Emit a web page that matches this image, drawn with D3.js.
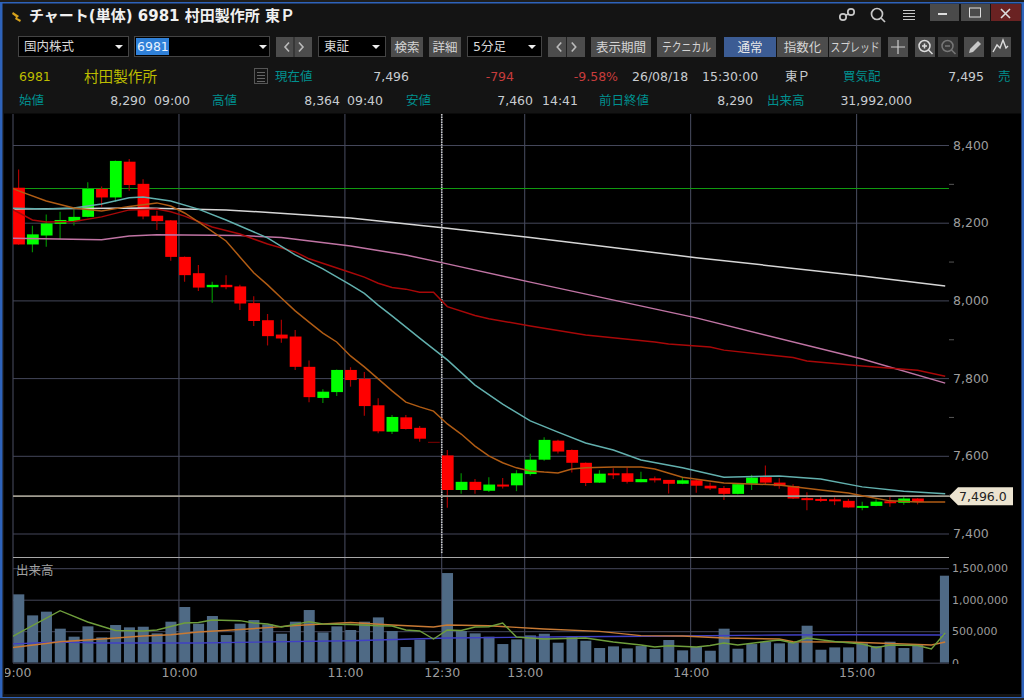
<!DOCTYPE html>
<html>
<head>
<meta charset="utf-8">
<script src="https://cdnjs.cloudflare.com/ajax/libs/d3/7.8.5/d3.min.js"></script>
<style>
  html, body { margin: 0; padding: 0; background: #000; overflow: hidden; }
  svg { display: block; }
  text { font-family: "DejaVu Sans", "Noto Sans CJK JP", sans-serif; }
</style>
</head>
<body>
<svg id="chart" width="1024" height="700"></svg>
<script>
// 5 minute bars, 09:00 - 15:30. The last two bars have no candle
const opens = [8290,8144,8167,8197,8204,8215,8287,8265,8357,8300,8218,8206,8112,8070,8034,8040,8036,7993,7949,7912,7907,7829,7749,7764,7821,7798,7730,7662,7699,7672,7636,7601,7512,7533,7510,7526,7524,7553,7590,7639,7615,7582,7531,7555,7555,7532,7542,7538,7528,7537,7523,7517,7502,7528,7545,7531,7522,7491,7489,7488,7484,7467,7471,7483,7479,7490,null,null];
const highs = [8337,8192,8221,8228,8234,8304,8293,8360,8364,8312,8231,8207,8113,8091,8048,8065,8040,8011,7965,7950,7924,7845,7771,7822,7828,7816,7748,7705,7705,7677,7636,7615,7555,7540,7545,7543,7563,7605,7648,7641,7616,7583,7563,7568,7570,7559,7547,7538,7546,7538,7531,7522,7528,7551,7575,7542,7527,7506,7495,7493,7489,7482,7488,7497,7496,7491,null,null];
const lows = [8143,8124,8138,8158,8193,8214,8241,8254,8282,8209,8181,8102,8048,8024,7994,8029,7975,7934,7884,7891,7821,7738,7736,7754,7778,7703,7658,7656,7668,7636,7636,7466,7502,7502,7507,7516,7509,7549,7587,7606,7557,7522,7530,7540,7529,7532,7531,7503,7527,7505,7512,7486,7501,7512,7525,7515,7489,7460,7481,7473,7466,7460,7470,7469,7474,7475,null,null];
const closes = [8144,8170,8198,8207,8215,8287,8265,8359,8297,8216,8204,8112,8065,8033,8040,8034,7992,7947,7908,7902,7829,7751,7765,7821,7795,7728,7663,7700,7669,7644,7636,7512,7533,7512,7526,7522,7555,7590,7641,7611,7582,7530,7554,7553,7533,7540,7538,7528,7537,7523,7516,7502,7527,7544,7531,7522,7490,7489,7488,7483,7467,7471,7482,7480,7490,7481,null,null];
const volumes = [1085000,751000,810000,540000,413000,577000,402000,598000,561000,571000,466000,651000,884000,619000,741000,439000,619000,677000,608000,460000,651000,836000,481000,577000,519000,651000,719000,503000,249000,365000,26000,1423000,503000,466000,413000,296000,370000,434000,460000,317000,407000,349000,233000,259000,227000,264000,217000,360000,196000,249000,190000,540000,222000,296000,333000,307000,323000,587000,206000,243000,243000,307000,264000,333000,233000,291000,0,1381000];

const maOrange = [[-1,8297],[0,8282],[2,8256],[4,8238],[6,8230],[8,8242],[10,8251],[11,8243],[12,8225],[13,8202],[15,8153],[16,8112],[17,8071],[18,8040],[19,8006],[20,7973],[21,7944],[22,7916],[23,7893],[24,7857],[25,7829],[26,7798],[27,7767],[28,7738],[29,7726],[30,7715],[31,7682],[32,7656],[33,7625],[34,7600],[35,7582],[36,7569],[37,7561],[38,7558],[39,7556],[40,7566],[41,7569],[43,7571],[45,7571],[46,7566],[48,7545],[51,7530],[55,7525],[58,7512],[60,7504],[61,7497],[63,7484],[65,7481],[67,7481]];
const maTeal = [[-1,8238],[2,8235],[4,8238],[6,8248],[8,8264],[9,8266],[11,8256],[13,8235],[15,8207],[18,8161],[20,8117],[22,8081],[24,8040],[25,8018],[26,7988],[27,7960],[29,7903],[31,7847],[33,7782],[35,7733],[37,7690],[39,7661],[41,7633],[43,7615],[45,7589],[48,7569],[51,7545],[55,7548],[58,7540],[61,7520],[64,7509],[67,7502]];
const maWhite = [[-1,8235],[9,8238],[15,8233],[20,8222],[24,8212],[31,8186],[37,8162],[49,8110],[61,8063],[67,8037]];
const maPink = [[-1,8160],[6,8156],[8,8166],[10,8169],[16,8167],[19,8162],[24,8140],[28,8117],[31,8094],[37,8047],[49,7955],[61,7849],[67,7787]];
const maRed = [[-1,8245],[1,8207],[2,8202],[4,8203],[6,8215],[8,8233],[10,8235],[11,8228],[12,8217],[14,8189],[16,8171],[18,8145],[20,8125],[21,8107],[24,8072],[25,8060],[26,8044],[27,8033],[28,8029],[29,8021],[30,8021],[31,7984],[33,7961],[34,7953],[37,7934],[41,7911],[46,7893],[47,7888],[50,7880],[51,7872],[56,7853],[57,7844],[61,7831],[65,7820],[67,7805]];

const volShort = [[-1,344000],[0,471000],[3,825000],[5,646000],[7,511000],[9,503000],[10,519000],[12,630000],[13,638000],[14,678000],[16,667000],[17,630000],[18,614000],[19,567000],[21,651000],[22,614000],[24,606000],[26,587000],[27,583000],[28,519000],[29,503000],[30,376000],[31,519000],[32,511000],[33,567000],[34,571000],[35,630000],[36,408000],[38,376000],[41,392000],[43,329000],[45,281000],[46,249000],[47,270000],[49,249000],[50,273000],[51,313000],[52,281000],[54,336000],[55,360000],[56,313000],[57,392000],[59,336000],[61,297000],[62,238000],[63,281000],[65,273000],[66,217000],[67,471000]];
const volMid = [[-1,225000],[3,333000],[6,376000],[9,424000],[11,444000],[13,487000],[16,527000],[18,556000],[20,590000],[24,638000],[27,598000],[30,567000],[31,598000],[34,587000],[38,535000],[42,498000],[45,429000],[48,424000],[51,392000],[55,376000],[56,333000],[60,329000],[66,281000],[67,329000]];
const volLong = [[-1,294000],[3,329000],[6,313000],[13,313000],[24,349000],[26,360000],[31,392000],[40,413000],[48,424000],[55,440000],[60,444000],[67,440000]];

const priceTicks = [7400,7600,7800,8000,8200,8400];
const priceMinorTicks = [7500,7700,7900,8100,8300];
const volumeTicks = [0,500000,1000000,1500000];
const timeBars = [0,12,24,31,37,49,61];
const timeLabels = ["09:00","10:00","11:00","12:30","13:00","14:00","15:00"];

const prevClose = 8290;
const lastPrice = 7496;

const svg = d3.select("#chart");
const plot = { left: 13, right: 949, top: 114, priceBottom: 553, volTop: 558, volBottom: 662.7 };
const barCount = opens.length;

const x = d3.scaleLinear().domain([0, barCount]).range([13, 13 + 13.83 * barCount]);
const mid = i => x(i) + 5.6;
const yPrice = d3.scaleLinear().domain([7400, 8400]).range([533.5, 145]);
const yVol = d3.scaleLinear().domain([0, 1500000]).range([662.7, 568.2]);

// ---------- window chrome ----------
const panel = "#141414", teal = "#00908f", yellow = "#bdbd00", pale = "#c8ccd0", btn = "#4c4c4c";

function rect(px, py, w, h, fill, stroke) {
  return svg.append("rect").attr("x", px).attr("y", py).attr("width", w).attr("height", h)
    .attr("fill", fill).attr("stroke", stroke || "none");
}
function label(str, px, py, fill, size, anchor, weight) {
  return svg.append("text").attr("x", px).attr("y", py).attr("fill", fill)
    .attr("font-size", size || 12.5).attr("text-anchor", anchor || "start")
    .attr("font-weight", weight || "normal").text(str);
}
function button(str, px, w, fill, color, fit) {
  rect(px, 37, w, 20, fill || btn);
  const t = label(str, px + w / 2, 52, color || "#d4d4d4", 12.5, "middle");
  // the katakana labels are squeezed to fit their buttons
  if (fit) t.attr("textLength", fit).attr("lengthAdjust", "spacingAndGlyphs");
}
function select(str, px, w) {
  rect(px + 0.5, 36.5, w, 20, "#000", "#444");
  label(str, px + 6, 51, "#d8d8d8", 12.5);
  svg.append("path").attr("d", d3.line()([[px + w - 13, 45], [px + w - 5, 45], [px + w - 9, 49]])).attr("fill", "#eee");
}
function arrows(px, w) {
  rect(px, 37, w, 20, btn);
  rect(px + w / 2 - 0.5, 37, 1, 20, "#222");
  const q = w / 4;
  [[px + q + 2, -1], [px + 3 * q - 2, 1]].forEach(([cx, d]) => {
    svg.append("path").attr("fill", "none").attr("stroke", "#bbb").attr("stroke-width", 1.6)
      .attr("d", d3.line()([[cx - 2 * d, 42.5], [cx + 2 * d, 47], [cx - 2 * d, 51.5]]));
  });
}

rect(0, 0, 1024, 700, "#1e1e1e");
rect(0, 2, 1024, 698, "#2e63bb");
rect(2.5, 3.5, 1019, 693.5, panel);
rect(0, 698, 1024, 2, "#2a2a2a");

// title bar
svg.append("path").attr("d", "M13 12l6 4-2 2 4 2-1 2-5-3 1-2-4-3z").attr("fill", "#d8a31c");
label("チャート(単体) 6981 村田製作所 東Ｐ", 29, 21, "#f0f0f0", 15, "start", "bold");

// link, search, menu
svg.append("g").attr("fill", "none").attr("stroke", "#c8c8c8").attr("stroke-width", 1.7).call(g => {
  g.append("circle").attr("cx", 843).attr("cy", 17).attr("r", 3.2);
  g.append("circle").attr("cx", 851).attr("cy", 12).attr("r", 3.2);
  g.append("path").attr("d", "M846 15l3-1");
  g.append("circle").attr("cx", 877).attr("cy", 14).attr("r", 5.5);
  g.append("path").attr("d", "M881 18l4 4");
});
[10, 13, 16, 19].forEach(d => rect(903, d, 12, 1, "#c8c8c8"));
rect(930, 4, 29, 17, "#4a4a4a");
rect(961, 4, 29, 17, "#4a4a4a");
rect(991, 4, 30, 17, "#6a2222");
rect(938, 13, 9, 2, "#ddd");
rect(969.5, 8, 11, 9, "none", "#ddd");
svg.append("path").attr("d", "M1001 9l9 9M1010 9l-9 9").attr("stroke", "#ddd").attr("stroke-width", 1.6);

// toolbar
select("国内株式", 18, 110);
rect(134.5, 36.5, 135, 20, "#000", "#444");
rect(136, 38, 33, 17, "#2f80d8");
label("6981", 137, 51, "#e8f2ff", 12.5);
svg.append("path").attr("d", "M259 45h8l-4 4z").attr("fill", "#eee");
arrows(276, 36);
select("東証", 318, 67);
button("検索", 391, 32);
button("詳細", 429, 32);
select("5分足", 467, 74);
arrows(548, 37);
button("表示期間", 591, 60);
button("テクニカル", 657, 59, null, null, 49);
button("通常", 724, 52, "#3c5c94", "#e8e8e8");
button("指数化", 777, 51);
button("スプレッド", 829, 52, null, null, 49);
rect(888, 37, 20, 20, btn);
svg.append("path").attr("d", "M898 40v14M891 47h14").attr("stroke", "#ccc").attr("stroke-width", 1.2);
rect(915, 37, 20, 20, btn);
rect(938, 37, 20, 20, "#383838");
svg.append("g").attr("fill", "none").attr("stroke-width", 1.5).call(g => {
  g.append("circle").attr("cx", 924.5).attr("cy", 46).attr("r", 5.5).attr("stroke", "#ddd");
  g.append("path").attr("d", "M928.5 50l4 4M922 46h5M924.5 43.5v5").attr("stroke", "#ddd");
  g.append("circle").attr("cx", 947.5).attr("cy", 46).attr("r", 5.5).attr("stroke", "#777");
  g.append("path").attr("d", "M951.5 50l4 4M945 46h5").attr("stroke", "#777");
});
rect(964, 37, 20, 20, btn);
svg.append("path").attr("d", "M969 53l1-4 8-8 3 3-8 8z").attr("fill", "#c8c8c8");
rect(991, 37, 20, 20, btn);
svg.append("path").attr("d", "M993 52l4-7 3 3 3-8 3 8 2-2").attr("fill", "none").attr("stroke", "#ddd").attr("stroke-width", 1.4);

// quote rows
label("6981", 19, 81, yellow, 12.5);
label("村田製作所", 84, 82, yellow, 14.6);
rect(254.5, 68.5, 13, 15, "none", "#555");
[72, 75, 78, 81].forEach(d => rect(257, d, 8, 1, "#666"));
label("現在値", 275, 81, teal);
label("7,496", 409, 81, pale, 12.5, "end");
label("-794", 514, 81, "#c83c3c", 12.5, "end");
label("-9.58%", 618, 81, "#c83c3c", 12.5, "end");
label("26/08/18", 632, 81, pale);
label("15:30:00", 702, 81, pale);
label("東Ｐ", 785, 81, pale);
label("買気配", 843, 81, teal);
label("7,495", 984, 81, pale, 12.5, "end");
label("売", 998, 81, teal);

label("始値", 19, 105, teal);
label("8,290", 146, 105, pale, 12.5, "end");
label("09:00", 154, 105, pale);
label("高値", 212, 105, teal);
label("8,364", 340, 105, pale, 12.5, "end");
label("09:40", 347, 105, pale);
label("安値", 406, 105, teal);
label("7,460", 533, 105, pale, 12.5, "end");
label("14:41", 542, 105, pale);
label("前日終値", 599, 105, teal);
label("8,290", 753, 105, pale, 12.5, "end");
label("出来高", 767, 105, teal);
label("31,992,000", 912, 105, pale, 12.5, "end");

// ---------- chart ----------
rect(4, 113.5, 1017, 580.5, "#000");

svg.append("defs").call(d => {
  d.append("clipPath").attr("id", "plotClip").append("rect")
    .attr("x", plot.left).attr("y", plot.top).attr("width", plot.right - plot.left).attr("height", plot.volBottom - plot.top);
  d.append("clipPath").attr("id", "axisClip").append("rect")
    .attr("x", 5).attr("y", 660).attr("width", 1000).attr("height", 30);
  d.append("clipPath").attr("id", "volAxisClip").append("rect")
    .attr("x", 949).attr("y", 555).attr("width", 72).attr("height", 109);
});

const grid = "#44475a", axisText = "#9c9c9c";

// time axis carries the vertical grid lines
const xTime = d3.axisBottom(x).tickValues(timeBars)
  .tickFormat((d, i) => timeLabels[i]).tickSize(0).tickPadding(5);
const timeG = svg.append("g").attr("clip-path", "url(#axisClip)")
  .append("g").attr("transform", `translate(0,${plot.volBottom})`).call(xTime);
timeG.select(".domain").remove();
timeG.selectAll("text").attr("fill", axisText).attr("font-size", 12.5).attr("font-family", null);

svg.append("g").selectAll("line").data(timeBars).join("line")
  .attr("x1", d => x(d)).attr("x2", d => x(d))
  .attr("y1", plot.top).attr("y2", plot.volBottom)
  .attr("stroke", "#4a4e62").attr("stroke-width", 1);

// price axis with grid
const priceG = svg.append("g").attr("transform", `translate(${plot.right},0)`)
  .call(d3.axisRight(yPrice).tickValues(priceTicks).tickFormat(d3.format(",")).tickSize(0).tickPadding(4));
priceG.select(".domain").remove();
priceG.selectAll("text").attr("fill", axisText).attr("font-size", 12.5);
priceG.selectAll(".tick").append("line").attr("x1", plot.left - plot.right).attr("x2", 0).attr("stroke", grid);

svg.append("g").attr("transform", `translate(${plot.right},0)`)
  .call(d3.axisRight(yPrice).tickValues(priceMinorTicks).tickFormat("").tickSize(5))
  .call(g => g.select(".domain").remove())
  .selectAll("line").attr("stroke", "#555");

// volume axis with grid. The reference cuts the 0 label at the pane bottom
const volG = svg.append("g").attr("clip-path", "url(#volAxisClip)")
  .append("g").attr("transform", `translate(${plot.right},0)`)
  .call(d3.axisRight(yVol).tickValues(volumeTicks).tickFormat(d3.format(",")).tickSize(0).tickPadding(3));
volG.select(".domain").remove();
volG.selectAll("text").attr("fill", axisText).attr("font-size", 11);
svg.append("g").attr("transform", `translate(${plot.right},0)`)
  .call(d3.axisRight(yVol).tickValues(volumeTicks).tickFormat("").tickSize(0))
  .call(g => g.select(".domain").remove())
  .selectAll(".tick").append("line").attr("x1", plot.left - plot.right).attr("x2", 0).attr("stroke", grid);

// pane separator and session break
rect(plot.left, 557, plot.right - plot.left, 1, "#a8a8a8");
svg.append("line").attr("x1", x(31)).attr("x2", x(31)).attr("y1", plot.top).attr("y2", plot.priceBottom)
  .attr("stroke", "#c8c8c8").attr("stroke-width", 1.6).attr("stroke-dasharray", "1.5 1");

label("出来高", 16, 575, "#a0a0a0", 12.5);

const chart = svg.append("g").attr("clip-path", "url(#plotClip)");

// previous close line
chart.append("line").attr("x1", plot.left).attr("x2", plot.right)
  .attr("y1", Math.round(yPrice(prevClose)) + 0.5).attr("y2", Math.round(yPrice(prevClose)) + 0.5)
  .attr("stroke", "#109a10").attr("stroke-width", 1.2);

// volume bars
chart.append("g").selectAll("rect").data(volumes.map((v, i) => ({ v, i })).filter(d => d.v > 0)).join("rect")
  .attr("x", d => x(d.i) + 0.3).attr("width", 11)
  .attr("y", d => yVol(d.v)).attr("height", d => yVol(0) - yVol(d.v))
  .attr("fill", "#4f6a85");

// candles
const candles = d3.range(barCount).filter(i => opens[i] !== null).map(i => ({
  i, o: opens[i], h: highs[i], l: lows[i], c: closes[i]
}));
const up = d => d.c > d.o;

const candleG = chart.append("g");
candleG.selectAll("line").data(candles).join("line")
  .attr("x1", d => mid(d.i)).attr("x2", d => mid(d.i))
  .attr("y1", d => yPrice(d.h)).attr("y2", d => yPrice(d.l))
  .attr("stroke", d => up(d) ? "#008c00" : "#a80000").attr("stroke-width", 1.2);
candleG.selectAll("rect").data(candles).join("rect")
  .attr("x", d => x(d.i) + 0.1).attr("width", 11.8)
  .attr("y", d => yPrice(Math.max(d.o, d.c)))
  .attr("height", d => Math.max(d.o === d.c ? 1 : 2, Math.abs(yPrice(d.o) - yPrice(d.c))))
  .attr("fill", d => d.o === d.c ? "#800000" : (up(d) ? "#00ff00" : "#ff0000"));

// last price line
chart.append("line").attr("x1", plot.left).attr("x2", plot.right)
  .attr("y1", yPrice(lastPrice)).attr("y2", yPrice(lastPrice))
  .attr("stroke", "#a09c90").attr("stroke-width", 1.8);

// moving averages on top of the candles
const priceLine = d3.line().x(d => mid(d[0])).y(d => yPrice(d[1]));
const volLine = d3.line().x(d => mid(d[0])).y(d => yVol(d[1]));

[[maWhite, "#d6d6d6"], [maPink, "#c074a4"], [maRed, "#a80808"], [maTeal, "#62b0ae"], [maOrange, "#b05c14"]].forEach(([data, color]) => {
  chart.append("path").attr("d", priceLine(data)).attr("fill", "none").attr("stroke", color).attr("stroke-width", 1.5);
});
[[volLong, "#4040c4"], [volMid, "#c87a34"], [volShort, "#6f9e3c"]].forEach(([data, color]) => {
  chart.append("path").attr("d", volLine(data)).attr("fill", "none").attr("stroke", color).attr("stroke-width", 1.4);
});

// last price tag
const tagY = yPrice(lastPrice);
svg.append("path").attr("fill", "#ece4d0")
  .attr("d", d3.line()([[949, tagY], [958, tagY - 9], [1013, tagY - 9], [1013, tagY + 9], [958, tagY + 9]]));
label(d3.format(",.1f")(lastPrice), 959, tagY + 4.5, "#222", 12.5);
</script>
</body>
</html>
